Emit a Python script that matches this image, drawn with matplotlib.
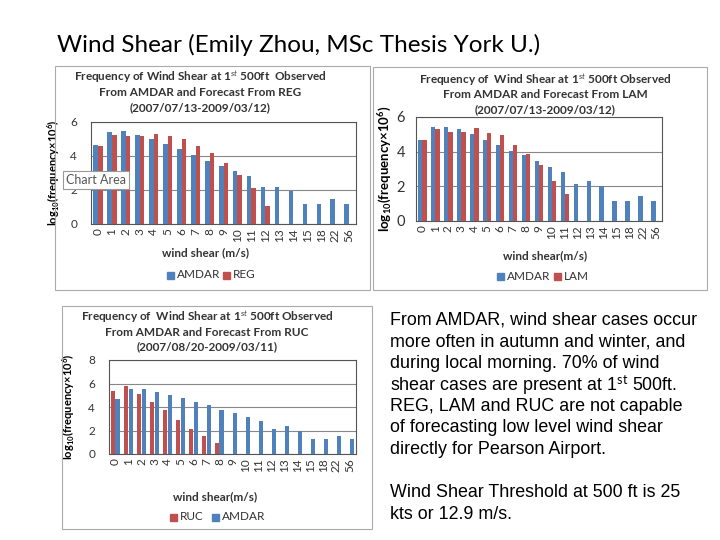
import numpy as np
import matplotlib.pyplot as plt
from matplotlib.patches import Rectangle

plt.rcParams['font.family'] = ['Lato', 'DejaVu Sans']
plt.rcParams['mathtext.fontset'] = 'custom'
plt.rcParams['mathtext.rm'] = 'Lato'
plt.rcParams['mathtext.it'] = 'Lato:italic'
plt.rcParams['mathtext.bf'] = 'Lato:bold'

BLUE = '#4F81BD'
RED = '#C0504D'

categories = ['0', '1', '2', '3', '4', '5', '6', '7', '8', '9', '10',
              '11', '12', '13', '14', '15', '18', '22', '56']

amdar_reg = [4.65, 5.4, 5.45, 5.25, 5.0, 4.7, 4.4, 4.05, 3.7, 3.4, 3.1,
             2.8, 2.15, 2.2, 1.95, 1.15, 1.15, 1.45, 1.15]
reg = [4.6, 5.25, 5.15, 5.15, 5.3, 5.15, 5.0, 4.6, 4.15, 3.6, 2.9,
       2.1, 1.05]

amdar_lam = [4.7, 5.45, 5.45, 5.3, 5.0, 4.7, 4.4, 4.05, 3.8, 3.45, 3.1,
             2.8, 2.15, 2.3, 2.0, 1.15, 1.15, 1.45, 1.15]
lam = [4.7, 5.3, 5.15, 5.15, 5.35, 5.1, 4.95, 4.4, 3.85, 3.25, 2.3, 1.55]

ruc = [5.4, 5.75, 5.1, 4.4, 3.75, 2.9, 2.15, 1.5, 0.95]
amdar_ruc = [4.65, 5.5, 5.5, 5.25, 5.0, 4.75, 4.4, 4.15, 3.75, 3.5, 3.15,
             2.8, 2.15, 2.35, 2.0, 1.25, 1.25, 1.5, 1.25]

W, H = 720, 540
fig = plt.figure(figsize=(7.2, 5.4), dpi=100)


def box(l, t, r, b):
    return [l / W, 1 - b / H, (r - l) / W, (b - t) / H]


def ftext(x, y, s, **kw):
    return fig.text(x / W, 1 - y / H, s, **kw)


def square(x, y, color, size=7):
    fig.patches.append(Rectangle(((x - size / 2) / W, 1 - (y + size / 2) / H),
                                 size / W, size / H, transform=fig.transFigure,
                                 color=color))


def chart(rect, first, second, colors, ymax):
    ax = fig.add_axes(rect)
    x = np.arange(len(categories))
    w = 0.33
    ax.bar(x[:len(first)] - w / 2, first, w, color=colors[0], zorder=3)
    ax.bar(x[:len(second)] + w / 2, second, w, color=colors[1], zorder=3)
    ax.set_xlim(-0.5, len(categories) - 0.5)
    ax.set_ylim(0, ymax)
    ax.set_yticks(np.arange(0, ymax + 1, 2))
    ax.yaxis.grid(True, color='#888888', lw=0.8, zorder=0)
    ax.set_xticks(x)
    ax.set_xticklabels(categories, rotation=90, fontsize=8.5, color='#333333')
    ax.tick_params(axis='y', labelsize=8.5, length=0, pad=10, labelcolor='#333333')
    ax.tick_params(axis='x', length=0, pad=3)
    for s in ax.spines.values():
        s.set_color('#555555')
        s.set_linewidth(0.8)
    return ax


def legend(x0, y, names, colors, x1):
    # Excel-style legend: coloured square, gap, name
    square(x0, y, colors[0])
    ftext(x0 + 7, y, names[0], color='#333333', fontsize=8.5, ha='left', va='center')
    square(x1, y, colors[1])
    ftext(x1 + 7, y, names[1], color='#333333', fontsize=8.5, ha='left', va='center')


ylab = r'$\mathbf{log_{10}(frequency{\times}10^6)}$'

# borders of the pasted chart pictures
for l, t, r, b in [(55, 66, 370, 290), (373, 67, 707, 290), (62, 306, 372, 529)]:
    fig.patches.append(Rectangle((l / W, 1 - b / H), (r - l) / W, (b - t) / H,
                                 transform=fig.transFigure, fill=False,
                                 ec='#aaaaaa', lw=0.8))

# chart 1 REG
ax1 = chart(box(91, 122, 356, 224), amdar_reg, reg, [BLUE, RED], 6)
ax1.set_ylabel(ylab, fontsize=8, labelpad=6)
for i, s in enumerate(['Frequency of Wind Shear at 1$^{st}$ 500ft  Observed',
                       'From AMDAR and Forecast From REG',
                       '(2007/07/13-2009/03/12)']):
    ftext(200, 77 + 15.5 * i, s, fontsize=8.5, fontweight='bold', color='#333333',
          ha='center', va='center')
ftext(205, 253, 'wind shear (m/s)', fontsize=8.5, fontweight='bold',
      color='#333333', ha='center', va='center')
legend(170, 275, ['AMDAR', 'REG'], [BLUE, RED], 226)
ftext(66, 180, 'Chart Area', fontsize=9, color='#555555', ha='left', va='center',
      bbox=dict(boxstyle='square,pad=0.25', fc='white', ec='#999999', lw=0.8))

# chart 2 LAM
ax2 = chart(box(416, 117, 662, 221), amdar_lam, lam, [BLUE, RED], 6)
ax2.set_ylabel(ylab, fontsize=9.5, labelpad=2)
ax2.tick_params(axis='y', labelsize=10.5, pad=8)
for i, s in enumerate(['Frequency of  Wind Shear at 1$^{st}$ 500ft Observed',
                       'From AMDAR and Forecast From LAM',
                       '(2007/07/13-2009/03/12)']):
    ftext(545, 80 + 15 * i, s, fontsize=8.5, fontweight='bold', color='#333333',
          ha='center', va='center')
ftext(545, 256, 'wind shear(m/s)', fontsize=8.5, fontweight='bold',
      color='#333333', ha='center', va='center')
legend(500, 276, ['AMDAR', 'LAM'], [BLUE, RED], 557)

# chart 3 RUC
ax3 = chart(box(109, 360, 356, 454), ruc, amdar_ruc, [RED, BLUE], 8)
ax3.set_ylabel(ylab, fontsize=8, labelpad=8)
for i, s in enumerate(['Frequency of  Wind Shear at 1$^{st}$ 500ft Observed',
                       'From AMDAR and Forecast From RUC',
                       '(2007/08/20-2009/03/11)']):
    ftext(207, 317 + 15 * i, s, fontsize=8.5, fontweight='bold', color='#333333',
          ha='center', va='center')
ftext(215, 497, 'wind shear(m/s)', fontsize=8.5, fontweight='bold',
      color='#333333', ha='center', va='center')
legend(173, 517, ['RUC', 'AMDAR'], [RED, BLUE], 215)

# slide title
ftext(57, 45, 'Wind Shear (Emily Zhou, MSc Thesis York U.)', fontsize=17.5,
      color='black', ha='left', va='center')

# notes
lines = ['From AMDAR, wind shear cases occur',
         'more often in autumn and winter, and',
         'during local morning. 70% of wind',
         'shear cases are present at 1$^{\\mathrm{st}}$ 500ft.',
         'REG, LAM and RUC are not capable',
         'of forecasting low level wind shear',
         'directly for Pearson Airport.',
         '',
         'Wind Shear Threshold at 500 ft is 25',
         'kts or 12.9 m/s.']
for i, s in enumerate(lines):
    if s:
        ftext(390, 320 + 21.6 * i, s, fontsize=12.9,
              family=['Liberation Sans', 'DejaVu Sans'], ha='left', va='center')

fig.savefig('out.png', dpi=100)
